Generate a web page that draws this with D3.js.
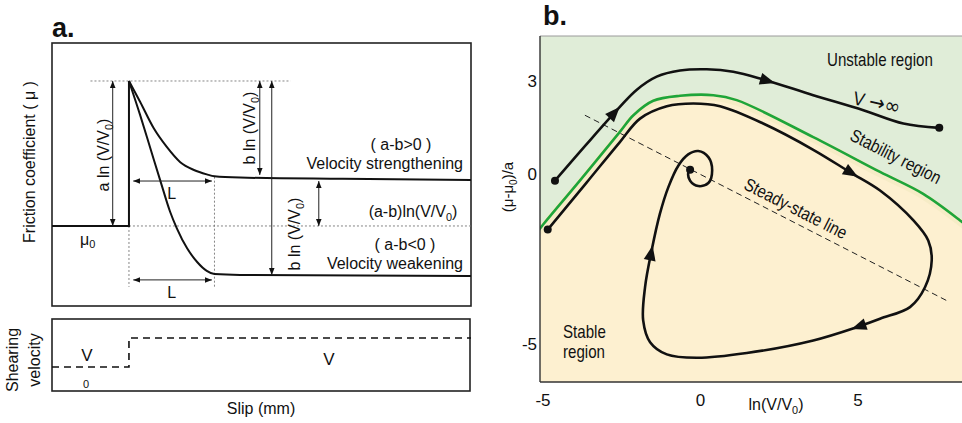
<!DOCTYPE html>
<html>
<head>
<meta charset="utf-8">
<script src="https://cdn.jsdelivr.net/npm/d3@7"></script>
<style>
  body { margin: 0; background: #fff; }
  text { font-family: "Liberation Sans Narrow", "Arial Narrow", "Liberation Sans", Arial, sans-serif; fill: #111; }
  .bold { font-family: "Liberation Sans", Arial, sans-serif; font-weight: bold; }
</style>
</head>
<body>
<svg id="fig" width="962" height="423"></svg>
<script>
// ---------- Panel a: friction after a velocity step (slip in units of L, friction in units of a ln(V/V0)) ----------
const slipExtent = [-0.9, 4.0];
const muExtent = [-0.552, 1.262];
const preStep = [[-0.9, 0], [0, 0], [0, 1]];
const strengthening = [[0, 1], [0.13, 0.857], [0.29, 0.674], [0.44, 0.547], [0.60, 0.44], [0.76, 0.386],
  [0.91, 0.356], [1.0, 0.343], [1.3, 0.334], [2.5, 0.325], [4.0, 0.317]];
const weakening = [[0, 1], [0.13, 0.766], [0.25, 0.536], [0.37, 0.306], [0.48, 0.10], [0.56, -0.016],
  [0.68, -0.154], [0.80, -0.25], [0.91, -0.31], [1.0, -0.332], [1.3, -0.338], [4.0, -0.345]];
// imposed load-point velocity (0 = V0, 1 = V)
const velocityHistory = [[-0.9, 0], [0, 0], [0, 1], [4.0, 1]];

// ---------- Panel b: phase plane ln(V/V0) vs (mu-mu0)/a ----------
const xTicks = [-5, 0, 5];
const yTicks = [3, 0, -5];
const stabilityBoundary = [[-5.2, -1.75], [-5.02, -1.53], [-3.83, -0.21], [-2.56, 1.35], [-2.13, 1.89], [-1.5, 2.36],
  [-0.65, 2.52], [0.41, 2.54], [1.15, 2.38], [3.58, 1.18], [5.70, 0.05], [7.07, -0.6], [8.24, -1.38], [8.4, -1.5]];
const runawayPath = [[-4.62, -0.21], [-3.6, 0.97], [-2.56, 2.16], [-2.03, 2.71], [-1.39, 3.14], [-0.65, 3.34],
  [0.2, 3.38], [1.04, 3.30], [1.99, 3.05], [3.58, 2.54], [5.17, 2.05], [6.44, 1.62], [7.58, 1.48]];
const stablePath = [[-4.85, -1.65], [-3.61, -0.26], [-2.56, 1.02], [-1.92, 1.78], [-1.07, 2.18], [-0.23, 2.27],
  [0.62, 2.18], [1.99, 1.62], [3.58, 0.77], [4.75, 0.04], [5.70, -0.5], [6.76, -1.38], [7.23, -1.97],
  [7.34, -2.56], [7.13, -3.34], [6.65, -3.93], [5.70, -4.27], [4.96, -4.52], [3.58, -4.91], [1.47, -5.28],
  [-0.12, -5.42], [-1.07, -5.32], [-1.60, -4.96], [-1.82, -4.32], [-1.76, -3.34], [-1.55, -2.26],
  [-1.29, -1.19], [-1.02, -0.40], [-0.70, 0.26], [-0.39, 0.62], [-0.07, 0.73], [0.25, 0.53], [0.37, 0.10],
  [0.25, -0.28], [-0.07, -0.37], [-0.33, -0.21], [-0.39, 0.01], [-0.33, 0.12]];
const steadyStateLine = [[-3.67, 1.89], [7.82, -3.74]];
// arrowhead tips (data coordinates) along each trajectory
const runawayArrows = [[-2.56, 2.16], [2.37, 2.94]];
const stableArrows = [[5.01, -0.06], [4.80, -4.57], [-1.50, -2.12]];

const svg = d3.select("#fig");
const defs = svg.append("defs");
defs.append("marker")
  .attr("id", "tip").attr("viewBox", "0 0 10 10")
  .attr("refX", 10).attr("refY", 5)
  .attr("markerWidth", 7).attr("markerHeight", 8)
  .attr("markerUnits", "userSpaceOnUse")
  .attr("orient", "auto-start-reverse")
  .append("path").attr("d", "M0,1 L10,5 L0,9 Z").attr("fill", "#111");

// ================= Panel a =================
const A = { x0: 52, x1: 471, y0: 43, y1: 306 };
const xa = d3.scaleLinear().domain(slipExtent).range([A.x0, A.x1]);
const ya = d3.scaleLinear().domain(muExtent).range([A.y1, A.y0]);
const ga = svg.append("g");

ga.append("text").attr("class", "bold").attr("x", 52).attr("y", 37)
  .style("font-size", "27px").text("a.");

ga.append("rect").attr("x", A.x0).attr("y", A.y0).attr("width", A.x1 - A.x0).attr("height", A.y1 - A.y0)
  .attr("fill", "none").attr("stroke", "#222").attr("stroke-width", 1.6);

const dotted = (x1, y1, x2, y2) => ga.append("line")
  .attr("x1", x1).attr("y1", y1).attr("x2", x2).attr("y2", y2)
  .attr("stroke", "#777").attr("stroke-width", 0.9).attr("stroke-dasharray", "2,2");
dotted(xa(-0.45), ya(1), xa(1.89), ya(1));
dotted(xa(0), ya(0), A.x1, ya(0));
dotted(xa(0), ya(0), xa(0), ya(-0.42));
dotted(xa(1), ya(0.34), xa(1), ya(-0.42));

const lineA = d3.line().x(d => xa(d[0])).y(d => ya(d[1]));
ga.append("path").attr("d", lineA(preStep)).attr("fill", "none").attr("stroke", "#111").attr("stroke-width", 2);
[strengthening, weakening].forEach(s => {
  ga.append("path").attr("d", lineA.curve(d3.curveMonotoneX)(s))
    .attr("fill", "none").attr("stroke", "#111").attr("stroke-width", 2);
});

const dimArrow = (x1, y1, x2, y2) => ga.append("line")
  .attr("x1", x1).attr("y1", y1).attr("x2", x2).attr("y2", y2)
  .attr("stroke", "#222").attr("stroke-width", 1)
  .attr("marker-start", "url(#tip)").attr("marker-end", "url(#tip)");
dimArrow(xa(-0.19), ya(1), xa(-0.19), ya(0));
dimArrow(xa(1.53), ya(1), xa(1.53), ya(0.352));
dimArrow(xa(1.67), ya(1), xa(1.67), ya(-0.338));
dimArrow(xa(2.22), ya(0.31), xa(2.22), ya(0));
dimArrow(xa(0.05), ya(0.31), xa(0.97), ya(0.31));
dimArrow(xa(0.05), ya(-0.372), xa(0.97), ya(-0.372));

function ratioLabel(g, prefix, x, y, size, rotate) {
  const t = g.append("text").attr("text-anchor", "middle").style("font-size", size + "px")
    .attr("transform", `translate(${x},${y})` + (rotate ? ` rotate(${rotate})` : ""));
  t.append("tspan").text(prefix + "(V/V");
  t.append("tspan").attr("dy", 4).style("font-size", (size * 0.68) + "px").text("0");
  t.append("tspan").attr("dy", -4).text(")");
  return t;
}
ratioLabel(ga, "a ln ", 109, 155, 16, -90);
ratioLabel(ga, "b ln ", 255, 128, 16, -90);
ratioLabel(ga, "b ln ", 300, 234, 16, -90);
ratioLabel(ga, "(a-b)ln", 413, 217, 16, 0);

const textA = (x, y, s, anchor = "middle", size = 16) => ga.append("text")
  .attr("x", x).attr("y", y).attr("text-anchor", anchor).style("font-size", size + "px").text(s);
textA(xa(0.5), ya(0.31) + 18, "L");
textA(xa(0.5), ya(-0.372) + 18, "L");
textA(401, 150, "( a-b>0 )");
textA(463, 168.5, "Velocity strengthening", "end");
textA(405, 250, "( a-b<0 )");
textA(463, 269, "Velocity weakening", "end");
const mu0 = ga.append("text").attr("x", 80).attr("y", 245).style("font-size", "16px");
mu0.append("tspan").text("μ");
mu0.append("tspan").attr("dy", 3).style("font-size", "11px").text("0");

ga.append("text").attr("text-anchor", "middle").style("font-size", "16px")
  .attr("transform", "translate(35,162) rotate(-90)").text("Friction coefficient ( μ )");

// velocity history strip
const V = { x0: 52, x1: 470, y0: 319, y1: 391 };
const yv = d3.scaleLinear().domain([0, 1]).range([367, 338]);
ga.append("rect").attr("x", V.x0).attr("y", V.y0).attr("width", V.x1 - V.x0).attr("height", V.y1 - V.y0)
  .attr("fill", "none").attr("stroke", "#222").attr("stroke-width", 1.6);
ga.append("path").attr("d", d3.line().x(d => xa(d[0])).y(d => yv(d[1]))(velocityHistory))
  .attr("fill", "none").attr("stroke", "#111").attr("stroke-width", 1.6).attr("stroke-dasharray", "7,5");
textA(87, 361, "V", "middle", 17);
textA(86, 388, "0", "middle", 11);
textA(329, 365, "V", "middle", 17);
ga.append("text").attr("text-anchor", "middle").style("font-size", "16px")
  .attr("transform", "translate(18,360) rotate(-90)").text("Shearing");
ga.append("text").attr("text-anchor", "middle").style("font-size", "16px")
  .attr("transform", "translate(40,360) rotate(-90)").text("velocity");
textA(261, 414, "Slip (mm)");

// ================= Panel b =================
const B = { x0: 540, x1: 962, y0: 36, y1: 382 };
const xb = d3.scaleLinear().domain([-5, 5]).range([543, 858]);
const yb = d3.scaleLinear().domain([-5, 0, 3]).range([343.5, 173.5, 81]);
const gb = svg.append("g");

gb.append("text").attr("class", "bold").attr("x", 543).attr("y", 25)
  .style("font-size", "27px").text("b.");

defs.append("clipPath").attr("id", "boxB").append("rect")
  .attr("x", B.x0).attr("y", B.y0).attr("width", B.x1 - B.x0).attr("height", B.y1 - B.y0);
const plot = gb.append("g").attr("clip-path", "url(#boxB)");
plot.append("rect").attr("x", B.x0).attr("y", B.y0).attr("width", B.x1 - B.x0).attr("height", B.y1 - B.y0)
  .attr("fill", "#fdf0d0");
const curve = d3.curveCatmullRom.alpha(0.5);
plot.append("path")
  .attr("d", d3.area().x(d => xb(d[0])).y0(B.y0).y1(d => yb(d[1])).curve(curve)(stabilityBoundary))
  .attr("fill", "#e0edd8");
const lineB = d3.line().x(d => xb(d[0])).y(d => yb(d[1])).curve(curve);
plot.append("path").attr("d", lineB(stabilityBoundary))
  .attr("fill", "none").attr("stroke", "#f6ecc6").attr("stroke-width", 7).attr("transform", "translate(0,2)");
plot.append("path").attr("d", lineB(stabilityBoundary))
  .attr("fill", "none").attr("stroke", "#1ea53a").attr("stroke-width", 2.6);
plot.append("path").attr("d", d3.line().x(d => xb(d[0])).y(d => yb(d[1]))(steadyStateLine))
  .attr("fill", "none").attr("stroke", "#222").attr("stroke-width", 1).attr("stroke-dasharray", "6,4");

function trajectory(points, tips) {
  const p = plot.append("path").attr("d", lineB(points))
    .attr("fill", "none").attr("stroke", "#111").attr("stroke-width", 2.6);
  const node = p.node(), total = node.getTotalLength();
  tips.forEach(t => {
    const tx = xb(t[0]), ty = yb(t[1]);
    let best = 0, bd = Infinity;
    for (let l = 0; l <= total; l += 0.5) {
      const q = node.getPointAtLength(l);
      const d = (q.x - tx) ** 2 + (q.y - ty) ** 2;
      if (d < bd) { bd = d; best = l; }
    }
    const tip = node.getPointAtLength(best);
    const back = node.getPointAtLength(Math.max(0, best - 14));
    const ang = Math.atan2(tip.y - back.y, tip.x - back.x) * 180 / Math.PI;
    plot.append("path").attr("d", "M0,0 L-15,-6 L-15,6 Z").attr("fill", "#111")
      .attr("transform", `translate(${tip.x},${tip.y}) rotate(${ang})`);
  });
  const start = points[0], end = points[points.length - 1];
  [start, end].forEach(d => plot.append("circle").attr("cx", xb(d[0])).attr("cy", yb(d[1])).attr("r", 4).attr("fill", "#111"));
}
trajectory(runawayPath, runawayArrows);
trajectory(stablePath, stableArrows);

// frame: dark left and bottom edges, light top edge
gb.append("line").attr("x1", B.x0).attr("y1", B.y0).attr("x2", B.x1).attr("y2", B.y0)
  .attr("stroke", "#9a9a9a").attr("stroke-width", 1);
gb.append("line").attr("x1", B.x0).attr("y1", B.y0).attr("x2", B.x0).attr("y2", B.y1)
  .attr("stroke", "#333").attr("stroke-width", 1.4);
gb.append("line").attr("x1", B.x0).attr("y1", B.y1).attr("x2", B.x1).attr("y2", B.y1)
  .attr("stroke", "#333").attr("stroke-width", 1.4);

// tick labels
gb.selectAll("text.xt").data(xTicks).enter().append("text").attr("class", "xt")
  .attr("x", d => xb(d)).attr("y", 406).attr("text-anchor", "middle").style("font-size", "17px").text(d => d);
gb.selectAll("text.yt").data(yTicks).enter().append("text").attr("class", "yt")
  .attr("x", 537).attr("y", d => yb(d) + 6).attr("text-anchor", "end").style("font-size", "17px").text(d => d);

// axis titles
const yTitle = gb.append("text").attr("text-anchor", "middle").style("font-size", "15px")
  .attr("transform", "translate(513,187) rotate(-90)");
yTitle.append("tspan").text("(μ-μ");
yTitle.append("tspan").attr("dy", 4).style("font-size", "10px").text("0");
yTitle.append("tspan").attr("dy", -4).text(")/a");
ratioLabel(gb, "ln", 776, 410, 16, 0);

// region labels (slightly condensed lettering)
const textB = (x, y, s, anchor, rot, size = 18) => gb.append("text").attr("text-anchor", anchor)
  .style("font-size", size + "px")
  .attr("transform", `translate(${x},${y})` + (rot ? ` rotate(${rot})` : "") + " scale(0.84,1)").text(s);
textB(827, 66, "Unstable region", "start");
const vInf = gb.append("text").style("font-size", "19px")
  .attr("transform", "translate(852,104) rotate(13) scale(0.9,1)");
vInf.append("tspan").text("V ");
vInf.append("tspan").style("font-family", "DejaVu Sans").style("font-size", "21px").text("→∞");
textB(893, 162, "Stability region", "middle", 27, 18);
textB(793, 214, "Steady-state line", "middle", 27, 18);
textB(563, 338, "Stable", "start", 0, 18);
textB(563, 358, "region", "start", 0, 18);
</script>
</body>
</html>
